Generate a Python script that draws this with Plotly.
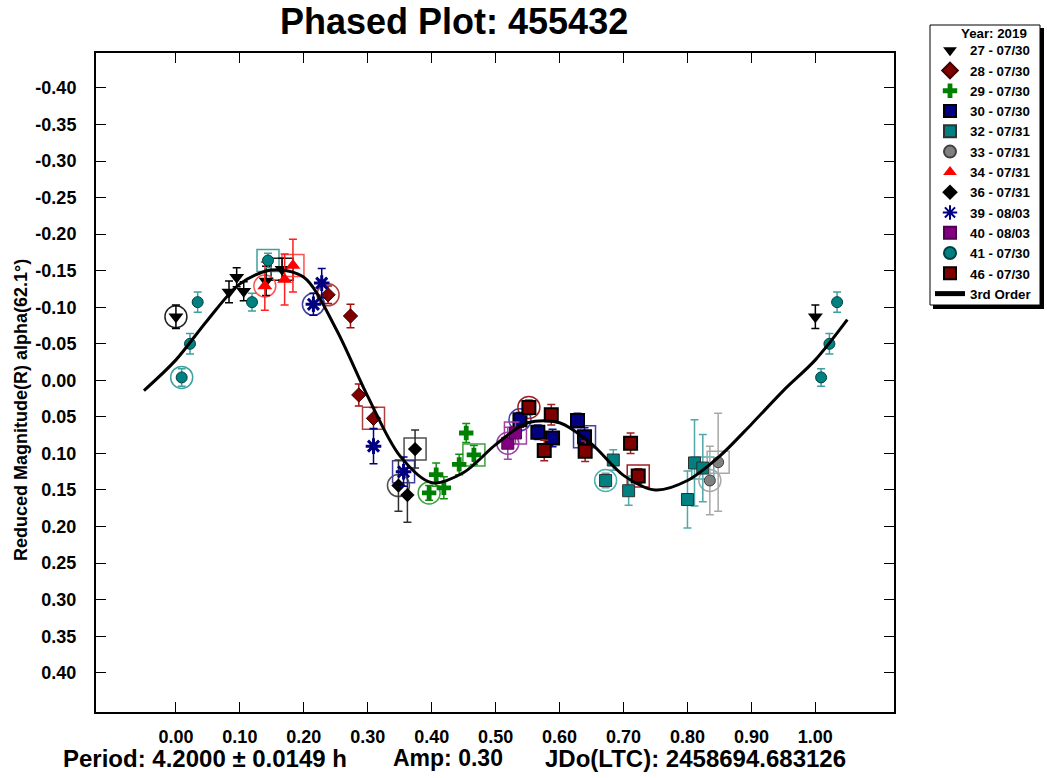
import plotly.graph_objects as go

# ---------------- data ----------------
s27_x = [0.000, 0.083, 0.095, 0.106, 0.141, 0.166]
s27_y = [-0.087, -0.121, -0.141, -0.122, -0.136, -0.152]
s27_e = [0.016, 0.015, 0.013, 0.013, 0.020, 0.015]

s28_x = [0.238, 0.273, 0.286, 0.309]
s28_y = [-0.117, -0.088, 0.020, 0.052]
s28_e = [0.012, 0.016, 0.015, 0.015]

s29_x = [0.396, 0.407, 0.419, 0.443, 0.454, 0.466]
s29_y = [0.154, 0.129, 0.147, 0.115, 0.072, 0.102]
s29_e = [0.010, 0.016, 0.015, 0.014, 0.013, 0.013]

s30_x = [0.538, 0.566, 0.589, 0.628, 0.639]
s30_y = [0.054, 0.071, 0.079, 0.055, 0.077]
s30_e = [0.010, 0.010, 0.012, 0.010, 0.012]

s32_x = [0.672, 0.684, 0.708, 0.800, 0.811, 0.824]
s32_y = [0.137, 0.109, 0.151, 0.163, 0.113, 0.120]
s32_e = [0.010, 0.014, 0.020, 0.039, 0.059, 0.046]

s33_x = [0.835, 0.848]
s33_y = [0.137, 0.112]
s33_e = [0.047, 0.067]

s34_x = [0.139, 0.170, 0.183]
s34_y = [-0.129, -0.138, -0.157]
s34_e = [0.033, 0.035, 0.036]

s36_x = [0.348, 0.362, 0.374]
s36_y = [0.144, 0.157, 0.094]
s36_e = [0.035, 0.037, 0.026]

s39_x = [0.215, 0.228, 0.309, 0.356]
s39_y = [-0.104, -0.133, 0.090, 0.125]
s39_e = [0.015, 0.020, 0.024, 0.020]

s40_x = [0.519, 0.531]
s40_y = [0.086, 0.072]
s40_e = [0.022, 0.015]

s41_x = [0.009, 0.022, 0.034, 0.119, 0.144]
s41_y = [-0.004, -0.050, -0.107, -0.107, -0.164]
s41_e = [0.012, 0.014, 0.014, 0.012, 0.010]

s46_x = [0.552, 0.576, 0.587, 0.640, 0.711, 0.723]
s46_y = [0.037, 0.096, 0.047, 0.097, 0.086, 0.131]
s46_e = [0.010, 0.014, 0.014, 0.014, 0.014, 0.010]

# index of first (circled) and last (boxed) point of each session
circle_idx = {"27": 0, "28": 0, "29": 0, "30": 0, "32": 0, "33": 0, "34": 0,
              "36": 0, "39": 0, "40": 0, "41": 0, "46": 0}
square_idx = {"27": 5, "28": 3, "29": 5, "30": 4, "32": 5, "33": 1, "34": 2,
              "36": 2, "39": 3, "40": 1, "41": 4, "46": 5}

series_names = ["27 - 07/30", "28 - 07/30", "29 - 07/30", "30 - 07/30", "32 - 07/31",
                "33 - 07/31", "34 - 07/31", "36 - 07/31", "39 - 08/03", "40 - 08/03",
                "41 - 07/30", "46 - 07/30"]

fit_x = [-0.05, 0.00, 0.05, 0.10, 0.15, 0.20, 0.25, 0.30, 0.35, 0.40, 0.45, 0.50,
         0.55, 0.60, 0.65, 0.70, 0.75, 0.80, 0.85, 0.90, 0.95, 1.00, 1.05]
fit_y = [0.014, -0.028, -0.083, -0.132, -0.151, -0.141, -0.071, 0.022, 0.103, 0.140,
         0.126, 0.088, 0.058, 0.058, 0.087, 0.130, 0.150, 0.137, 0.104, 0.060, 0.014,
         -0.028, -0.083]

x_ticks = [0.0, 0.1, 0.2, 0.3, 0.4, 0.5, 0.6, 0.7, 0.8, 0.9, 1.0]
x_ticktext = ["0.00", "0.10", "0.20", "0.30", "0.40", "0.50", "0.60", "0.70", "0.80", "0.90", "1.00"]
y_ticks = [-0.40, -0.35, -0.30, -0.25, -0.20, -0.15, -0.10, -0.05, 0.0,
           0.05, 0.10, 0.15, 0.20, 0.25, 0.30, 0.35, 0.40]
y_ticktext = ["-0.40", "-0.35", "-0.30", "-0.25", "-0.20", "-0.15", "-0.10", "-0.05", "0.00",
              "0.05", "0.10", "0.15", "0.20", "0.25", "0.30", "0.35", "0.40"]

# ---------------- styles ----------------
FONT = "Liberation Sans, Arial, sans-serif"
styles = {
    "27": dict(symbol="triangle-down", size=13, color="#000000", line=dict(color="#000000", width=0),
               err="#000000", hl="#202020"),
    "28": dict(symbol="diamond", size=11, color="#800000", line=dict(color="#400000", width=1),
               err="#A01010", hl="#B04040"),
    "29": dict(symbol="cross", size=12, color="#008000", line=dict(color="#008000", width=0),
               err="#109010", hl="#40A040"),
    "30": dict(symbol="square", size=13, color="#000080", line=dict(color="#000000", width=2),
               err="#101090", hl="#4040B0"),
    "32": dict(symbol="square", size=12, color="#008080", line=dict(color="#303030", width=1),
               err="#50A8A8", hl="#50B0B0"),
    "33": dict(symbol="circle", size=11, color="#808080", line=dict(color="#404040", width=1),
               err="#A8A8A8", hl="#A8A8A8"),
    "34": dict(symbol="triangle-up", size=13, color="#FF0000", line=dict(color="#FF0000", width=0),
               err="#FF2020", hl="#FF5050"),
    "36": dict(symbol="diamond", size=11, color="#000000", line=dict(color="#000000", width=0),
               err="#303030", hl="#505050"),
    "39": dict(symbol="asterisk-open", size=13, color="#000080", line=dict(color="#000080", width=3),
               err="#000080", hl="#4040A0"),
    "40": dict(symbol="square", size=12, color="#800080", line=dict(color="#500050", width=1),
               err="#A040A0", hl="#A040A0"),
    "41": dict(symbol="circle", size=11, color="#008080", line=dict(color="#004040", width=1),
               err="#40A0A0", hl="#40A0A0"),
    "46": dict(symbol="square", size=13, color="#800000", line=dict(color="#000000", width=2),
               err="#A02020", hl="#A02020"),
}

data = {
    "27": (s27_x, s27_y, s27_e), "28": (s28_x, s28_y, s28_e), "29": (s29_x, s29_y, s29_e),
    "30": (s30_x, s30_y, s30_e), "32": (s32_x, s32_y, s32_e), "33": (s33_x, s33_y, s33_e),
    "34": (s34_x, s34_y, s34_e), "36": (s36_x, s36_y, s36_e), "39": (s39_x, s39_y, s39_e),
    "40": (s40_x, s40_y, s40_e), "41": (s41_x, s41_y, s41_e), "46": (s46_x, s46_y, s46_e),
}

fig = go.Figure()

# highlight rings / boxes (first & last point of each session)
for key, (xs, ys, es) in data.items():
    st = styles[key]
    ci, si = circle_idx[key], square_idx[key]
    fig.add_trace(go.Scatter(x=[xs[ci]], y=[ys[ci]], mode="markers", showlegend=False,
                             hoverinfo="skip",
                             marker=dict(symbol="circle-open", size=22,
                                         line=dict(color=st["hl"], width=1.5), color=st["hl"])))
    fig.add_trace(go.Scatter(x=[xs[si]], y=[ys[si]], mode="markers", showlegend=False,
                             hoverinfo="skip",
                             marker=dict(symbol="square-open", size=22,
                                         line=dict(color=st["hl"], width=1.5), color=st["hl"])))

# data series (points within 0.05 of phase 0 are repeated at phase + 1)
for key, name in zip(data.keys(), series_names):
    xs, ys, es = data[key]
    st = styles[key]
    px = list(xs) + [x + 1 for x in xs if x + 1 <= 1.05]
    py = list(ys) + [y for x, y in zip(xs, ys) if x + 1 <= 1.05]
    pe = list(es) + [e for x, e in zip(xs, es) if x + 1 <= 1.05]
    fig.add_trace(go.Scatter(
        x=px, y=py, mode="markers", name=name,
        marker=dict(symbol=st["symbol"], size=st["size"], color=st["color"], line=st["line"]),
        error_y=dict(type="data", array=pe, visible=True, color=st["err"], thickness=1.5, width=4),
    ))

# 3rd order Fourier fit
fig.add_trace(go.Scatter(x=fit_x, y=fit_y, mode="lines", name="3rd Order",
                         line=dict(color="black", width=3, shape="spline", smoothing=0.9)))

# ---------------- layout (page pixel coordinates) ----------------
W, H = 1047, 778
L, R, T, B = 96, 894, 53, 712
pw, ph = R - L, B - T


def xp(page_x):
    return (page_x - L) / pw


def yp(page_y):
    return (B - page_y) / ph


fig.update_layout(
    width=W, height=H,
    margin=dict(l=L, r=W - R, t=T, b=H - B, pad=0, autoexpand=False),
    paper_bgcolor="white", plot_bgcolor="white",
    font=dict(family=FONT, color="black"),
    showlegend=True,
    legend=dict(
        x=xp(930), y=yp(35), xanchor="left", yanchor="top",
        bgcolor="rgba(0,0,0,0)", borderwidth=0,
        font=dict(family=FONT, size=13.3, color="black", weight="bold"),
        itemsizing="constant",
    ),
    xaxis=dict(
        range=[-0.125, 1.123], tickvals=x_ticks, ticktext=x_ticktext,
        showgrid=False, zeroline=False, showline=True, mirror="ticks",
        linecolor="black", linewidth=2, ticks="inside", ticklen=10, tickwidth=1,
        tickcolor="black", ticklabelstandoff=7, automargin=False,
        tickfont=dict(family=FONT, size=18, color="black", weight="bold"),
    ),
    yaxis=dict(
        range=[0.4537, -0.4478], tickvals=y_ticks, ticktext=y_ticktext,
        showgrid=False, zeroline=False, showline=True, mirror="ticks",
        linecolor="black", linewidth=2, ticks="inside", ticklen=10, tickwidth=1,
        tickcolor="black", ticklabelstandoff=14, automargin=False,
        tickfont=dict(family=FONT, size=18, color="black", weight="bold"),
    ),
    shapes=[
        # legend drop shadow and frame
        dict(type="rect", xref="paper", yref="paper",
             x0=xp(933), x1=xp(1044), y0=yp(309), y1=yp(28),
             fillcolor="black", line=dict(width=0), layer="above"),
        dict(type="rect", xref="paper", yref="paper",
             x0=xp(930), x1=xp(1040), y0=yp(305), y1=yp(25),
             fillcolor="white", line=dict(color="black", width=1), layer="above"),
    ],
    annotations=[
        dict(text="Year: 2019", xref="paper", yref="paper", x=xp(994), y=yp(33),
             xanchor="center", yanchor="middle", showarrow=False,
             font=dict(family=FONT, size=13.3, color="black", weight="bold")),
        dict(text="Phased Plot: 455432", xref="paper", yref="paper", x=xp(454), y=yp(21),
             xanchor="center", yanchor="middle", showarrow=False,
             font=dict(family=FONT, size=36, color="black", weight="bold")),
        dict(text="Reduced Magnitude(R) alpha(62.1°)", xref="paper", yref="paper",
             x=xp(21), y=yp(410), xanchor="center", yanchor="middle", textangle=-90,
             showarrow=False, font=dict(family=FONT, size=18, color="black", weight="bold")),
        dict(text="Period: 4.2000 ± 0.0149 h", xref="paper", yref="paper", x=xp(61), y=yp(758),
             xanchor="left", yanchor="middle", showarrow=False,
             font=dict(family=FONT, size=24, color="black", weight="bold")),
        dict(text="Amp: 0.30", xref="paper", yref="paper", x=xp(391), y=yp(758),
             xanchor="left", yanchor="middle", showarrow=False,
             font=dict(family=FONT, size=23, color="black", weight="bold")),
        dict(text="JDo(LTC): 2458694.683126", xref="paper", yref="paper", x=xp(543), y=yp(758),
             xanchor="left", yanchor="middle", showarrow=False,
             font=dict(family=FONT, size=24, color="black", weight="bold")),
    ],
)

# remove the browser's default 8px body margin so the figure sits at the page origin
fig.write_html("out.html", config={"displayModeBar": False},
               post_script="document.body.style.margin = '0px';")
